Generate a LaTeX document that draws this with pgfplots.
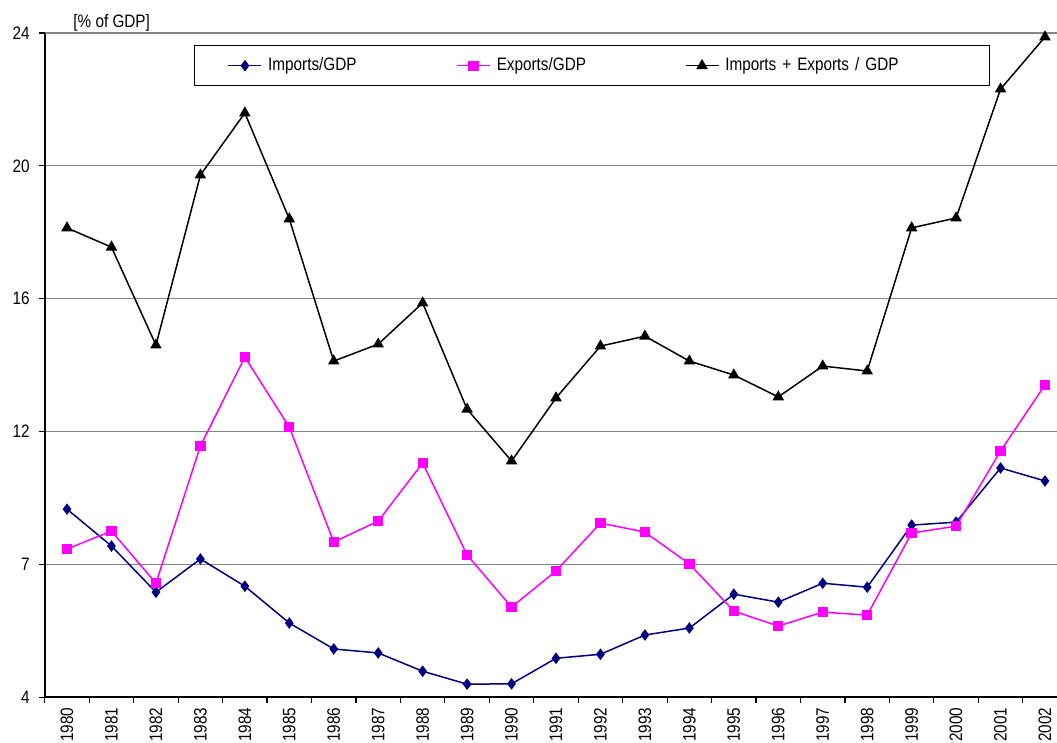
\documentclass[border=0pt]{standalone}
\usepackage{fontspec}
\setmainfont{Liberation Sans}[FakeStretch=0.85]
\usepackage{pgfplots}
\usepackage{pgfplotstable}
\pgfplotsset{compat=1.18}
\definecolor{navy}{RGB}{0,0,128}
\definecolor{mag}{RGB}{255,0,255}
\definecolor{grd}{RGB}{134,134,134}

\pgfplotstableread{
year imp exp tot
1980 9.66 8.46 18.13
1981 8.55 9.00 17.55
1982 7.16 7.43 14.60
1983 8.16 11.56 19.72
1984 7.34 14.24 21.59
1985 6.23 12.13 18.40
1986 5.45 8.67 14.12
1987 5.33 9.30 14.63
1988 4.78 11.05 15.87
1989 4.39 8.28 12.67
1990 4.40 6.71 11.11
1991 5.17 7.80 13.01
1992 5.29 9.24 14.57
1993 5.87 8.97 14.87
1994 6.08 8.01 14.12
1995 7.10 6.59 13.70
1996 6.86 6.14 13.04
1997 7.43 6.56 13.97
1998 7.31 6.47 13.82
1999 9.18 8.94 18.13
2000 9.27 9.15 18.43
2001 10.90 11.41 22.31
2002 10.51 13.40 23.88
}\data

\begin{document}
\begin{tikzpicture}
\begin{axis}[
  scale only axis, width=506pt, height=332pt,
  xmin=1979.5, xmax=2002.27, ymin=4, ymax=24,
  axis x line*=bottom, axis y line*=left,
  axis line style={line width=0.8pt, black},
  ytick={4,8,12,16,20,24}, yticklabels={4,7,12,16,20,24},
  ymajorgrids, grid style={grd, line width=0.6pt},
  xtick={1980,...,2002}, minor xtick={1979.5,1980.5,...,2002.5},
  major x tick style={draw=none},
  tick align=outside, major tick length=3pt, minor tick length=3pt,
  tick style={black, line width=0.6pt},
  x tick label style={rotate=90, anchor=east, font=\fontsize{9}{10}\selectfont, inner xsep=2pt,
    /pgf/number format/1000 sep={}, /pgf/number format/assume math mode=true},
  y tick label style={font=\fontsize{9}{10}\selectfont, xshift=-1pt},
  clip=false,
  legend image code/.code={\draw[mark repeat=2,mark phase=2] plot coordinates {(0pt,0pt) (8.25pt,0pt) (16.5pt,0pt)};},
  legend columns=3, legend cell align=left,
  legend style={at={(rel axis cs:0.1474,0.982)}, anchor=north west, draw=black,
    line width=0.7pt, inner xsep=16.5pt, inner ysep=6pt,
    font=\fontsize{9}{10}\selectfont,
    /tikz/column sep=0pt, /tikz/every odd column/.append style={column sep=3pt},
    nodes={inner xsep=0pt, inner ysep=0pt}},
]
\addplot[navy, line width=0.75pt, mark=diamond*, mark size=2.3pt, mark options={solid}] table[x=year,y=imp]{\data};
\addlegendentry[text width=94pt]{Imports/GDP}
\addplot[mag, line width=0.75pt, mark=square*, mark size=2.2pt, mark options={solid}] table[x=year,y=exp]{\data};
\addlegendentry[text width=94pt]{Exports/GDP}
\addplot[black, line width=0.75pt, mark=triangle*, mark size=2.6pt, mark options={solid}] table[x=year,y=tot]{\data};
\addlegendentry[text width=115.5pt]{Imports + Exports / GDP}
\coordinate (bl) at (rel axis cs:0,0);
\coordinate (tr) at (rel axis cs:1,1);
\end{axis}
\node[anchor=base west, inner sep=0pt, font=\fontsize{9}{10}\selectfont] at ([shift={(14.1pt,2.5pt)}]bl|-tr) {[\% of GDP]};
\pgfresetboundingbox
\path ([shift={(-22.4pt,-22.5pt)}]bl) rectangle ([shift={(0pt,16.5pt)}]tr);
\end{tikzpicture}
\end{document}
